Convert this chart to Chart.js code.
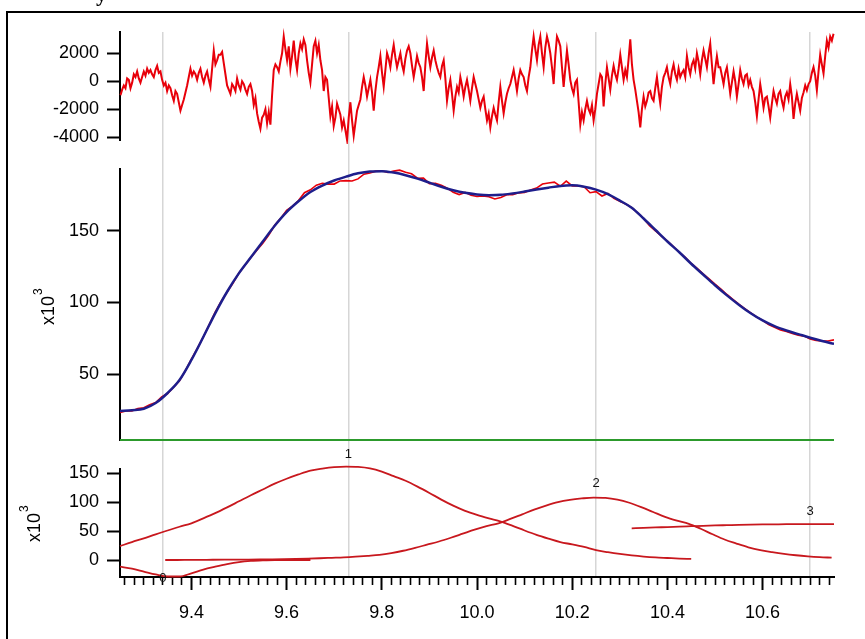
<!DOCTYPE html>
<html><head><meta charset="utf-8">
<script src="https://cdn.jsdelivr.net/npm/chart.js@4.4.1/dist/chart.umd.min.js"></script>
<style>html,body{margin:0;padding:0;background:#fff;overflow:hidden}canvas{display:block}</style>
</head><body>
<canvas id="c" width="865" height="639" style="width:865px;height:639px"></canvas>
<script>
// ---------- data ----------
const xMin = 9.25, xMax = 10.75;
const xMajorTicks = [9.4, 9.6, 9.8, 10.0, 10.2, 10.4, 10.6];
const xMinorStep = 0.02;
const resTicks = [-4000, -2000, 0, 2000];
const fitTicks = [50, 100, 150];
const peakTicks = [0, 50, 100, 150];
const peakCenters = [9.34, 9.73, 10.25, 10.70];
const peakLabels = ['0', '1', '2', '3'];
const peakLabelY = [-32, 183, 133, 84.5];

// residual (top panel)
const resStart = 9.251, resStep = 0.0035;
const residual = [
 -1000,-600,-300,-500,200,100,-500,-100,500,300,700,200,-100,300,700,400,900,600,800,500,
 300,800,1100,600,700,100,-300,-100,-700,-300,-500,-1000,-1400,-700,-900,-1500,-2100,-1700,-1300,-800,
 -300,300,900,400,700,500,100,600,900,300,-100,400,700,100,-400,900,2200,1200,1500,1900,
 1900,2100,1300,500,-300,-600,-900,-200,-400,-700,200,-300,-600,0,-200,-600,-900,-400,-200,-700,
 -1700,-1200,-2300,-2900,-3400,-2600,-2400,-2000,-3000,-2200,-3100,-1000,800,1200,1000,700,1400,2000,3200,2300,
 1500,2500,900,1800,2900,1600,800,2000,2700,2300,3000,2600,1500,600,-100,1200,2500,2900,2000,2600,
 1500,800,-700,300,100,-1200,-2500,-1800,-3200,-2600,-1600,-2000,-2400,-3300,-2800,-3500,-4200,-2600,-1500,-2800,
 -3900,-3000,-2100,-1700,-1300,-400,300,-300,-1100,-500,100,-800,-2100,-700,300,1000,1800,600,-400,800,
 2000,1600,1000,1900,2600,1700,1000,1500,2000,1200,700,1600,2200,2500,2000,1100,300,1000,1800,1300,
 1000,300,-700,1200,2700,1800,1000,1700,2200,1500,1000,600,300,1100,1500,200,-1400,-500,100,-900,
 -2100,-1100,-400,-800,300,-300,-1100,-400,100,-600,-1400,-500,300,-200,-700,-1300,-1900,-1400,-1100,-2000,
 -2800,-2300,-3300,-2500,-1900,-2400,-2800,-1500,-400,-1400,-2300,-1500,-900,-500,-200,300,800,100,-700,200,
 800,500,300,-300,-700,300,1000,2200,3200,2300,1500,2600,3200,2000,1000,2400,3200,2700,2000,1000,
 -200,1800,3200,2900,2500,1000,-400,900,2200,1200,100,-500,-900,-100,100,-1500,-3100,-2200,-2800,-2000,
 -1400,-2000,-2300,-1700,-2800,-2000,-900,-200,500,300,-1800,-200,1000,200,-600,400,1100,500,100,900,
 1900,1000,100,800,300,1600,3000,1200,100,-600,-1400,-2200,-3300,-2000,-1100,-1800,-1400,-800,-700,-1200,
 -1400,-500,300,-700,-1600,-400,300,600,1000,300,-200,700,1200,500,100,900,300,600,800,300,
 1800,1000,500,1200,1500,900,2000,1400,500,1500,2200,1600,1000,2000,2700,1200,-200,900,1800,1000,
 1000,400,-200,600,1000,100,-900,-100,700,0,-1100,-200,800,200,-200,400,500,-300,100,-400,
 -700,-1500,-2500,-1300,-200,-1000,-1900,-1200,-1100,-1800,-2600,-1600,-700,-1200,-1600,-900,-700,-1400,-1900,-1100,
 -800,-1300,-200,-1100,-2700,-1600,-900,-1500,-2100,-1200,-800,-300,-650,-200,0,600,1000,400,-650,700,
 1900,1200,550,1800,2900,2400,3200,2900,3400
];

// fit (middle panel, x10^3)
const fitStart = 9.25, fitStep = 0.025;
const fitValues = [
 24.5,25,26,30,37,46,60,76,92.5,107.5,
 120.5,131.5,142.5,153.5,163,170.5,177,181.5,185,187.7,
 190,191.3,191.5,190.5,188.7,186.3,183.5,180.6,178.2,176.4,
 175.3,174.8,175,176,177.3,178.7,180,181.2,181.6,180.6,
 178.6,175.5,171,166,158.5,150.5,142.5,135,127,119.5,
 112,105,98.5,92.5,87.5,83.5,80.5,78,75.5,73.2,
 71.2
];

// measured data (middle panel, x10^3)
const dataStart = 9.25, dataStep = 0.0125;
const dataValues = [
 23.5,24.45,24.5,26.2,26.7,28.8,30.3,34.2,36.6,41,
 45.5,52.5,60.5,68,76,84.6,93.3,100.8,107.3,113.6,
 120.6,125.9,131.4,136.4,141.3,147,153.8,158.6,164.2,167.2,
 171,176.5,178.5,181.7,183,182.5,182.5,184.7,184.9,184.6,
 186.1,189.4,190.2,191.5,191.8,190.6,191.5,192.2,190.7,189.7,
 186.6,186.7,182.8,183,181.6,179.7,176.8,175.2,176.7,174.7,
 173.9,174.3,173.7,172.1,173.1,175.1,175.1,176.4,176.6,178.3,
 179.7,182.5,183.2,183.8,181,184.6,181.2,181.2,180.7,176.5,
 177.2,174.2,176,172.5,170.6,168.6,166.1,162.4,158.5,153.5,
 149.8,146.2,142.8,139,135,131.5,127.2,123.8,120,116.5,
 112.8,109.3,105.6,102.2,98.9,95.8,92.8,89.9,87.6,84.6,
 82.7,80.9,79.8,78.5,77.2,76.6,74.6,73.5,73.2,73.2,74
];

const baselineX = [9.25, 10.75];
const baselineY = [4.3, 4.3];

// peak components (bottom panel, x10^3)
const peakStep = 0.025;
const peak0Start = 9.25;
const peak0 = [-11.5,-15,-20,-25,-28.5,-28.5,-23,-16.5,-11.5,-7,-3.5,-1.5,-0.5,0,0,0,0];
const peak1Start = 9.25;
const peak1 = [
 24,31,37.5,44.5,51,57.5,63.5,72,81,91,
 101.5,112,122,132,140.5,148,154.5,158,160.5,161.5,
 161,158.5,153,145,137,127,116,104.5,94,85,
 78,72,66.5,59,51,43.5,37,31,27,22.5,
 17,13.5,10.5,8,6,4.5,3.5,2.5,1.8
];
const peak2Start = 9.345;
const peak2 = [
 0,0,0.2,0.3,0.4,0.5,0.6,0.8,1,1.2,
 1.5,1.9,2.4,3,3.8,4.6,5.8,7.3,9,12,
 16,21,26.5,32,38.5,45.5,52.5,58.5,63.5,71,
 79,87,94,100,104,106.5,108,107.5,104.5,99,
 91.5,83,74.5,68,62.5,54,44.5,35.5,28.5,22,
 17,13.5,10.5,8.2,6.4,5,4
];
const peak3Start = 10.325;
const peak3 = [54.8,55.5,56.3,57,57.8,58.5,59.2,59.8,60.3,60.8,61.2,61.5,61.7,61.9,62,62,62.1,62.1];

// ---------- layout / style ----------
const PANEL = { yTop: [32, 140], yMid: [169, 440], yBot: [469, 577] };
const AXIS_W = 120;
const FONT = { family: '"Liberation Sans", Arial, sans-serif', size: 18 };

function series(start, step, vals) {
  return vals.map((v, i) => ({ x: Math.round((start + i * step) * 10000) / 10000, y: v }));
}
function isMajor(v) { return xMajorTicks.some(m => Math.abs(m - v) < 1e-6); }

function yScale(id, min, max, ticks) {
  return {
    type: 'linear', position: 'left', min, max,
    afterBuildTicks: s => { s.ticks = ticks.map(v => ({ value: v })); },
    afterFit: s => { s.width = (id === 'yTop') ? AXIS_W : 0; },
    grid: { drawOnChartArea: false, drawTicks: true, tickLength: 13, tickWidth: 2, tickColor: '#000' },
    border: { display: true, color: '#000', width: 2 },
    ticks: { font: FONT, color: '#000', padding: 8, callback: v => String(v) }
  };
}

const decor = {
  id: 'decor',
  afterLayout(chart) {
    for (const id of Object.keys(PANEL)) {
      const s = chart.scales[id];
      const [t, b] = PANEL[id];
      s.left = 0; s.right = AXIS_W; s.width = AXIS_W;
      s.top = t; s.bottom = b; s.height = b - t;
      s.configure();
    }
  },
  beforeDraw(chart) {
    const ctx = chart.ctx;
    ctx.save(); ctx.fillStyle = '#fff'; ctx.fillRect(0, 0, chart.width, chart.height); ctx.restore();
  },
  afterDraw(chart) {
    const ctx = chart.ctx;
    ctx.save();
    ctx.strokeStyle = '#000'; ctx.lineWidth = 2;
    ctx.strokeRect(7, 12, 900, 700);
    ctx.fillStyle = '#000';
    ctx.font = 'bold 22px "Liberation Serif", serif';
    ctx.textAlign = 'left'; ctx.textBaseline = 'alphabetic';
    ctx.fillText('y', 96, 1);
    const exp = (bx, by) => {
      ctx.save();
      ctx.translate(bx, by); ctx.rotate(-Math.PI / 2);
      ctx.font = '18px "Liberation Sans", Arial, sans-serif';
      ctx.textAlign = 'left'; ctx.textBaseline = 'alphabetic';
      ctx.fillText('x10', 0, 0);
      const w = ctx.measureText('x10').width;
      ctx.font = '12px "Liberation Sans", Arial, sans-serif';
      ctx.fillText('3', w + 1, -12);
      ctx.restore();
    };
    exp(54, 325);
    exp(40, 542);
    const xs = chart.scales.x, yb = chart.scales.yBot;
    ctx.font = '13px "Liberation Sans", Arial, sans-serif';
    ctx.textAlign = 'center'; ctx.textBaseline = 'middle'; ctx.fillStyle = '#111';
    peakCenters.forEach((c, i) => ctx.fillText(peakLabels[i], xs.getPixelForValue(c), yb.getPixelForValue(peakLabelY[i])));
    ctx.restore();
  }
};

const peakStyle = { borderColor: '#c8181e', borderWidth: 1.8, pointRadius: 0, cubicInterpolationMode: 'monotone', xAxisID: 'x', yAxisID: 'yBot', clip: 8 };

new Chart(document.getElementById('c'), {
  type: 'line',
  data: {
    datasets: [
      { data: series(resStart, resStep, residual), xAxisID: 'x', yAxisID: 'yTop', borderColor: '#e8000a', borderWidth: 2, pointRadius: 0, tension: 0, clip: 4 },
      { data: series(fitStart, fitStep, fitValues), xAxisID: 'x', yAxisID: 'yMid', borderColor: '#1e1e8c', borderWidth: 2.5, pointRadius: 0, cubicInterpolationMode: 'monotone' },
      { data: series(dataStart, dataStep, dataValues), xAxisID: 'x', yAxisID: 'yMid', borderColor: '#e8000a', borderWidth: 1.6, pointRadius: 0, tension: 0 },
      { data: baselineX.map((x, i) => ({ x, y: baselineY[i] })), xAxisID: 'x', yAxisID: 'yMid', borderColor: '#2c9a2c', borderWidth: 2, pointRadius: 0, clip: 4 },
      Object.assign({ data: series(peak0Start, peakStep, peak0) }, peakStyle),
      Object.assign({ data: series(peak1Start, peakStep, peak1) }, peakStyle),
      Object.assign({ data: series(peak2Start, peakStep, peak2) }, peakStyle),
      Object.assign({ data: series(peak3Start, peakStep, peak3) }, peakStyle)
    ]
  },
  options: {
    responsive: false, animation: false, devicePixelRatio: 1,
    layout: { padding: { top: 32, right: 31, left: 0, bottom: 0 } },
    plugins: { legend: { display: false }, tooltip: { enabled: false } },
    elements: { point: { radius: 0 } },
    scales: {
      x: {
        type: 'linear', position: 'bottom', min: xMin, max: xMax,
        afterBuildTicks: s => {
          const t = [];
          const k0 = Math.ceil(xMin / xMinorStep - 1e-9), k1 = Math.floor(xMax / xMinorStep + 1e-9);
          for (let k = k0; k <= k1; k++) {
            const v = Math.round(k * xMinorStep * 100) / 100;
            if (v > xMin + 1e-9 && v < xMax - 1e-9) t.push({ value: v });
          }
          s.ticks = t;
        },
        afterFit: s => { s.height = 62; },
        grid: {
          drawOnChartArea: false, tickLength: 13, tickColor: '#000',
          tickWidth: c => isMajor(c.tick.value) ? 2 : 1.6,
          tickBorderDash: c => isMajor(c.tick.value) ? [] : [7, 30]
        },
        border: { display: true, color: '#000', width: 2 },
        ticks: { autoSkip: false, maxRotation: 0, minRotation: 0, font: FONT, color: '#000', padding: 12,
                 callback: v => isMajor(v) ? v.toFixed(1) : '' }
      },
      xg: {
        type: 'linear', position: 'top', min: xMin, max: xMax,
        afterBuildTicks: s => { s.ticks = peakCenters.map(v => ({ value: v })); },
        afterFit: s => { s.height = 0; },
        grid: { drawOnChartArea: true, drawTicks: false, color: '#d6d6d6', lineWidth: 1.5 },
        border: { display: false }, ticks: { display: false }
      },
      yTop: yScale('yTop', -4200, 3520, resTicks),
      yMid: yScale('yMid', 4.25, 193, fitTicks),
      yBot: yScale('yBot', -29.4, 157.4, peakTicks)
    }
  },
  plugins: [decor]
});
</script>
</body></html>
